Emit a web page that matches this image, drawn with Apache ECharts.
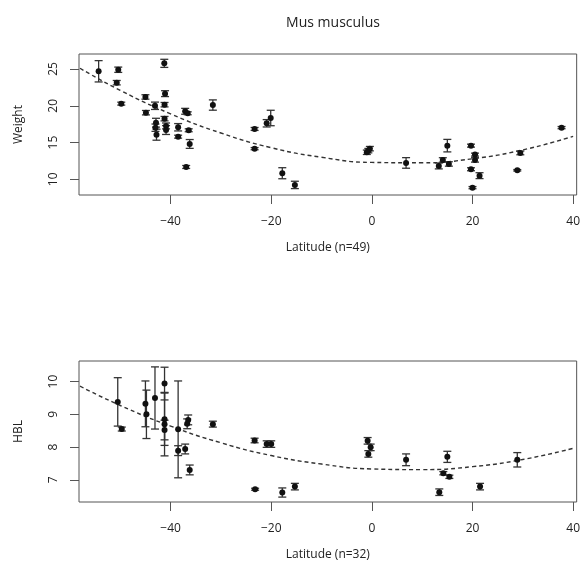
<!DOCTYPE html>
<html>
<head>
<meta charset="utf-8">
<script src="https://cdn.jsdelivr.net/npm/echarts@6/dist/echarts.min.js"></script>
<style>
  html, body { margin: 0; padding: 0; background: #fff; }
  #main { width: 583px; height: 576px; }
</style>
</head>
<body>
<div id="main"></div>
<script>
// top panel: weight vs latitude (mean, sd)
var wLat = [-54.3, -50.4, -50.7, -49.8, -41.25, -41.1, -41.2, -45.0, -43.1, -44.9, -41.2, -42.9, -43.0, -42.8, -40.9, -40.9,
  -38.5, -38.5, -37.1, -36.6, -36.4, -36.2, -36.9, -31.6, -23.3, -23.3, -20.9, -20.1, -17.8, -15.3,
  -0.4, -0.7, -1.0, 6.8, 15.0, 14.1, 13.3, 15.3, 19.7, 20.5, 20.5, 19.7, 21.4, 20.0, 28.9, 29.5, 37.7];
var wMean = [24.69, 24.9, 23.14, 20.29, 25.77, 21.65, 20.15, 21.2, 20.0, 19.06, 18.25, 17.7, 17.02, 16.07, 17.26, 16.7,
  17.08, 15.8, 19.25, 18.98, 16.67, 14.81, 11.68, 20.1, 16.85, 14.17, 17.62, 18.34, 10.83, 9.24,
  14.17, 13.9, 13.68, 12.23, 14.58, 12.64, 11.82, 12.09, 14.58, 13.36, 12.64, 11.37, 10.5, 8.87, 11.23, 13.59, 17.03];
var wSd = [1.45, 0.36, 0.3, 0.2, 0.55, 0.4, 0.3, 0.3, 0.5, 0.3, 0.3, 0.6, 0.5, 0.75, 0.4, 0.6,
  0.5, 0.2, 0.4, 0.2, 0.2, 0.6, 0.2, 0.7, 0.2, 0.15, 0.5, 1.05, 0.75, 0.5,
  0.3, 0.3, 0.3, 0.72, 0.85, 0.3, 0.4, 0.3, 0.2, 0.2, 0.3, 0.2, 0.4, 0.15, 0.1, 0.25, 0.15];

// bottom panel: HBL vs latitude
var hLat = [-50.5, -49.7, -45.0, -44.8, -43.1, -41.2, -41.2, -41.2, -41.2, -38.5, -38.5, -37.1, -36.5, -36.7, -36.2, -31.6,
  -23.3, -20.9, -20.0, -23.2, -17.8, -15.3, -0.84, -0.24, -0.7, 6.8, 15.0, 14.2, 15.4, 13.4, 21.5, 28.9];
var hMean = [9.38, 8.55, 9.32, 9.0, 9.5, 9.94, 8.85, 8.7, 8.52, 8.54, 7.89, 7.94, 8.83, 8.71, 7.3, 8.7,
  8.2, 8.09, 8.09, 6.71, 6.61, 6.79, 8.19, 7.99, 7.79, 7.61, 7.7, 7.2, 7.09, 6.62, 6.79, 7.61];
var hSd = [0.74, 0.06, 0.7, 0.74, 0.95, 0.5, 0.8, 0.97, 0.3, 1.48, 0.15, 0.15, 0.15, 0.15, 0.15, 0.09,
  0.07, 0.1, 0.1, 0.03, 0.14, 0.1, 0.1, 0.1, 0.1, 0.18, 0.17, 0.05, 0.05, 0.1, 0.1, 0.22];

// dashed fitted curves
var curveLat = [-58, -50, -40, -30, -20, -10, 0, 10, 20, 30, 40];
var wCurve = [25.1, 22.1, 18.9, 16.3, 14.3, 13.0, 12.3, 12.25, 12.8, 14.0, 15.85];
var hCurve = [9.86, 9.27, 8.64, 8.13, 7.74, 7.48, 7.33, 7.31, 7.40, 7.62, 7.96];

var latTicks = [-40, -20, 0, 20, 40];
var wTicks = [10, 15, 20, 25];
var hTicks = [7, 8, 9, 10];

var font = 'Open Sans';
var lineCol = '#555';

function zip(a, b) {
  return a.map(function (v, i) { return [v, b[i]]; });
}
function bars(lat, mean, sd) {
  return lat.map(function (v, i) { return [v, mean[i] - sd[i], mean[i] + sd[i]]; });
}

function errRender(params, api) {
  var lo = api.coord([api.value(0), api.value(1)]);
  var hi = api.coord([api.value(0), api.value(2)]);
  var w = 4;
  var st = { stroke: '#333', lineWidth: 1.3 };
  return {
    type: 'group',
    children: [
      { type: 'line', shape: { x1: lo[0], y1: lo[1], x2: hi[0], y2: hi[1] }, style: st },
      { type: 'line', shape: { x1: lo[0] - w, y1: lo[1], x2: lo[0] + w, y2: lo[1] }, style: st },
      { type: 'line', shape: { x1: hi[0] - w, y1: hi[1], x2: hi[0] + w, y2: hi[1] }, style: st }
    ]
  };
}

function xAxis(idx, name) {
  return {
    type: 'value', gridIndex: idx, min: -58.2, max: 40.7,
    name: name, nameLocation: 'middle', nameGap: 47,
    nameTextStyle: { fontFamily: font, fontSize: 12, color: '#222' },
    axisLine: { show: false, onZero: false },
    splitLine: { show: false },
    axisTick: { show: true, length: 9, lineStyle: { color: lineCol }, customValues: latTicks },
    axisLabel: {
      fontFamily: font, fontSize: 12, color: '#222', margin: 21, customValues: latTicks,
      formatter: function (v) { return String(v).replace('-', '\u2212'); }
    }
  };
}
function yAxis(idx, name, min, max, ticks) {
  return {
    type: 'value', gridIndex: idx, min: min, max: max,
    name: name, nameLocation: 'middle', nameGap: 54,
    nameTextStyle: { fontFamily: font, fontSize: 12, color: '#222' },
    axisLine: { show: false, onZero: false },
    splitLine: { show: false },
    axisTick: { show: true, length: 9, lineStyle: { color: lineCol }, customValues: ticks },
    axisLabel: { fontFamily: font, fontSize: 12, color: '#222', margin: 19, rotate: 90, customValues: ticks }
  };
}

var chart = echarts.init(document.getElementById('main'));
chart.setOption({
  animation: false,
  title: {
    text: 'Mus musculus', left: 328, top: 11, textAlign: 'center',
    textStyle: { fontFamily: font, fontSize: 14, fontWeight: 'normal', color: '#222' }
  },
  grid: [
    { left: 79, top: 54, width: 499, height: 141, show: true, borderColor: lineCol, borderWidth: 1 },
    { left: 79, top: 361, width: 499, height: 141, show: true, borderColor: lineCol, borderWidth: 1 }
  ],
  xAxis: [xAxis(0, 'Latitude (n=49)'), xAxis(1, 'Latitude (n=32)')],
  yAxis: [yAxis(0, 'Weight', 7.87, 27.04, wTicks), yAxis(1, 'HBL', 6.32, 10.63, hTicks)],
  series: [
    { type: 'line', xAxisIndex: 0, yAxisIndex: 0, data: zip(curveLat, wCurve), smooth: true, symbol: 'none',
      lineStyle: { color: '#333', width: 1.4, type: [4, 3] }, z: 1 },
    { type: 'custom', xAxisIndex: 0, yAxisIndex: 0, data: bars(wLat, wMean, wSd), renderItem: errRender, z: 2 },
    { type: 'scatter', xAxisIndex: 0, yAxisIndex: 0, data: zip(wLat, wMean), symbolSize: 6,
      itemStyle: { color: '#111', opacity: 1 }, z: 3 },
    { type: 'line', xAxisIndex: 1, yAxisIndex: 1, data: zip(curveLat, hCurve), smooth: true, symbol: 'none',
      lineStyle: { color: '#333', width: 1.4, type: [4, 3] }, z: 1 },
    { type: 'custom', xAxisIndex: 1, yAxisIndex: 1, data: bars(hLat, hMean, hSd), renderItem: errRender, z: 2 },
    { type: 'scatter', xAxisIndex: 1, yAxisIndex: 1, data: zip(hLat, hMean), symbolSize: 6,
      itemStyle: { color: '#111', opacity: 1 }, z: 3 }
  ]
});
</script>
</body>
</html>
